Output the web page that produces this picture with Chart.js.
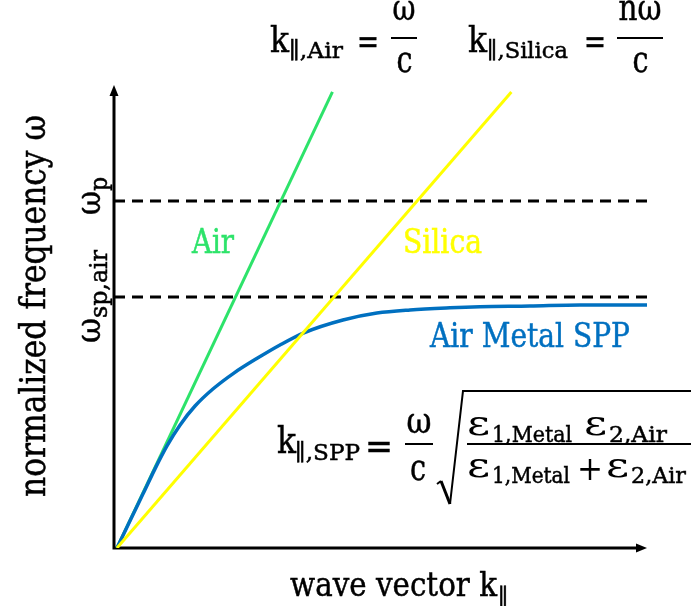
<!DOCTYPE html>
<html>
<head>
<meta charset="utf-8">
<script src="https://cdn.jsdelivr.net/npm/chart.js@4.4.1/dist/chart.umd.min.js"></script>
<style>
  html, body { margin: 0; padding: 0; background: #ffffff; }
  canvas { display: block; }
</style>
</head>
<body>
<canvas id="dispersion" width="691" height="606"></canvas>
<script>
// Axis ranges (k in units of omega_p / c, omega normalised to omega_p)
const kMin = -0.018;
const kMax = 3.232;
const wMin = 0;
const wMax = 1.334;

// Light line in air: k = omega / c
const airK = [0, 1.314];
const airW = [0, 1.314];

// Light line in silica: k = n omega / c
const silicaK = [0, 2.405];
const silicaW = [0, 1.314];

// Surface plasmon polariton at the air / metal interface
const sppK = [0, 0.079, 0.159, 0.232, 0.305, 0.384, 0.476, 0.585, 0.713, 0.860, 0.994, 1.140, 1.378, 1.585, 1.787, 2.030, 2.213, 2.518, 2.823, 3.232];
const sppW = [0, 0.078, 0.156, 0.228, 0.294, 0.354, 0.409, 0.458, 0.504, 0.548, 0.585, 0.620, 0.657, 0.677, 0.686, 0.692, 0.695, 0.697, 0.700, 0.700];

// Reference frequencies
const omegaP = 1.0;
const omegaSpAir = 0.723;

const GREEN = '#2DE36A';
const YELLOW = '#FFFF00';
const BLUE = '#0070C0';
const FONT = "'DejaVu Serif', serif";

const pts = (xs, ys) => xs.map((x, i) => ({ x: x, y: ys[i] }));

// Draws a string with its left edge at x (or centred), baseline at y,
// optionally fitted horizontally to a given width; weight adds a thin outline.
function put(ctx, str, x, y, size, color, width, align, weight) {
  const lw = weight === undefined ? 0.5 : weight;
  ctx.save();
  ctx.font = size + 'px ' + FONT;
  ctx.fillStyle = color;
  ctx.strokeStyle = color;
  ctx.textBaseline = 'alphabetic';
  ctx.textAlign = 'left';
  const m = ctx.measureText(str).width;
  const s = width ? width / m : 1;
  const w = m * s;
  const x0 = align === 'center' ? x - w / 2 : x;
  ctx.translate(x0, y);
  ctx.scale(s, 1);
  ctx.fillText(str, 0, 0);
  if (lw > 0) {
    ctx.lineWidth = lw;
    ctx.strokeText(str, 0, 0);
  }
  ctx.restore();
}

function bar(ctx, x1, x2, y, lw) {
  ctx.save();
  ctx.strokeStyle = '#000';
  ctx.lineWidth = lw || 2;
  ctx.beginPath();
  ctx.moveTo(x1, y);
  ctx.lineTo(x2, y);
  ctx.stroke();
  ctx.restore();
}

// Axes with arrow heads, drawn underneath the curves
const axesPlugin = {
  id: 'arrowAxes',
  beforeDatasetsDraw(chart) {
    const ctx = chart.ctx;
    const a = chart.chartArea;
    const x0 = a.left, y0 = a.bottom;
    ctx.save();
    ctx.strokeStyle = '#000';
    ctx.fillStyle = '#000';
    ctx.lineWidth = 3;
    ctx.lineJoin = 'miter';
    ctx.beginPath();
    ctx.moveTo(x0, a.top + 8);
    ctx.lineTo(x0, y0);
    ctx.lineTo(a.right - 8, y0);
    ctx.stroke();
    // y arrow
    ctx.beginPath();
    ctx.moveTo(x0, a.top);
    ctx.lineTo(x0 - 4.5, a.top + 11);
    ctx.lineTo(x0 + 4.5, a.top + 11);
    ctx.closePath();
    ctx.fill();
    // x arrow
    ctx.beginPath();
    ctx.moveTo(a.right, y0);
    ctx.lineTo(a.right - 11, y0 - 4.5);
    ctx.lineTo(a.right - 11, y0 + 4.5);
    ctx.closePath();
    ctx.fill();
    ctx.restore();
  }
};

// Labels and the dispersion relations
const textPlugin = {
  id: 'formulaText',
  afterDraw(chart) {
    const ctx = chart.ctx;

    // Axis titles (vertical one reads bottom to top)
    put(ctx, 'wave vector k', 290, 596, 34, '#000', 207);
    put(ctx, '\u2225', 498, 604, 22, '#000');

    ctx.save();
    ctx.translate(45, 497);
    ctx.rotate(-Math.PI / 2);
    put(ctx, 'normalized frequency \u03c9', 0, 0, 35, '#000', 382);
    ctx.restore();

    // omega_sp,air and omega_p next to the dashed levels
    ctx.save();
    ctx.translate(100, 343);
    ctx.rotate(-Math.PI / 2);
    put(ctx, '\u03c9', 0, 0, 36, '#000', 25);
    put(ctx, 'sp,air', 25, 7, 24, '#000', 68);
    ctx.restore();

    ctx.save();
    ctx.translate(100, 215);
    ctx.rotate(-Math.PI / 2);
    put(ctx, '\u03c9', 0, 0, 36, '#000', 24);
    put(ctx, 'p', 24, 7, 24, '#000', 14);
    ctx.restore();

    // Curve labels
    put(ctx, 'Air', 192, 253, 33, GREEN, 42);
    put(ctx, 'Silica', 403, 253, 33, YELLOW, 79);
    put(ctx, 'Air Metal SPP', 430, 347, 33, BLUE, 200);

    // k_air = omega / c
    put(ctx, 'k', 270, 52, 35, '#000', 19);
    put(ctx, '\u2225,Air', 289, 58, 23, '#000', 54);
    put(ctx, '=', 357, 53, 35, '#000', 22);
    put(ctx, '\u03c9', 404, 20, 35, '#000', 23, 'center');
    bar(ctx, 391, 417, 38);
    put(ctx, 'c', 404.5, 72, 35, '#000', 16, 'center');

    // k_silica = n omega / c
    put(ctx, 'k', 468, 52, 35, '#000', 19);
    put(ctx, '\u2225,Silica', 487, 58, 23, '#000', 81);
    put(ctx, '=', 584, 53, 35, '#000', 22);
    put(ctx, 'n\u03c9', 640, 20, 35, '#000', 43, 'center');
    bar(ctx, 617, 663, 38);
    put(ctx, 'c', 640.5, 72, 35, '#000', 16, 'center');

    // k_SPP = omega / c * sqrt(e1 e2 / (e1 + e2))
    put(ctx, 'k', 277, 453, 37, '#000', 19);
    put(ctx, '\u2225,SPP', 295, 460, 23, '#000', 65);
    put(ctx, '=', 365, 459, 37, '#000', 28);
    put(ctx, '\u03c9', 419, 433, 35, '#000', 25, 'center');
    bar(ctx, 405, 433, 444);
    put(ctx, 'c', 418, 480, 35, '#000', 16, 'center');

    ctx.save();
    ctx.strokeStyle = '#000';
    ctx.lineWidth = 2;
    ctx.lineJoin = 'miter';
    ctx.beginPath();
    ctx.moveTo(437, 484);
    ctx.lineTo(441, 481);
    ctx.stroke();
    ctx.lineWidth = 3;
    ctx.beginPath();
    ctx.moveTo(441, 481);
    ctx.lineTo(450, 504);
    ctx.stroke();
    ctx.lineWidth = 2;
    ctx.beginPath();
    ctx.moveTo(450, 504);
    ctx.lineTo(463, 391);
    ctx.lineTo(691, 391);
    ctx.stroke();
    ctx.restore();

    put(ctx, '\u03b5', 467, 435, 34, '#000', 23, 'left', 0);
    put(ctx, '1,Metal', 492, 442, 23, '#000', 80);
    put(ctx, '\u03b5', 584, 435, 34, '#000', 23, 'left', 0);
    put(ctx, '2,Air', 609, 442, 23, '#000', 58);
    bar(ctx, 467, 691, 444);
    put(ctx, '\u03b5', 467, 477, 34, '#000', 23, 'left', 0);
    put(ctx, '1,Metal', 492, 483, 23, '#000', 78);
    put(ctx, '+', 577, 480, 34, '#000', 26, 'left', 0);
    put(ctx, '\u03b5', 606, 477, 34, '#000', 23, 'left', 0);
    put(ctx, '2,Air', 631, 483, 23, '#000', 55);
  }
};

new Chart(document.getElementById('dispersion'), {
  type: 'scatter',
  data: {
    datasets: [
      {
        label: 'Silica',
        data: pts(silicaK, silicaW),
        showLine: true,
        borderColor: YELLOW,
        borderWidth: 3,
        pointRadius: 0,
        order: 0
      },
      {
        label: 'Air Metal SPP',
        data: pts(sppK, sppW),
        showLine: true,
        borderColor: BLUE,
        borderWidth: 3.5,
        pointRadius: 0,
        cubicInterpolationMode: 'monotone',
        order: 1
      },
      {
        label: 'Air',
        data: pts(airK, airW),
        showLine: true,
        borderColor: GREEN,
        borderWidth: 3,
        pointRadius: 0,
        order: 2
      },
      {
        label: 'omega_p',
        data: pts([kMin, kMax], [omegaP, omegaP]),
        showLine: true,
        borderColor: '#000',
        borderWidth: 3,
        borderDash: [11, 7],
        pointRadius: 0,
        order: 3
      },
      {
        label: 'omega_sp,air',
        data: pts([kMin, kMax], [omegaSpAir, omegaSpAir]),
        showLine: true,
        borderColor: '#000',
        borderWidth: 3,
        borderDash: [11, 7],
        pointRadius: 0,
        order: 3
      }
    ]
  },
  options: {
    responsive: false,
    animation: false,
    devicePixelRatio: 1,
    layout: { padding: { left: 114, right: 44, top: 85, bottom: 58 } },
    plugins: { legend: { display: false }, tooltip: { enabled: false } },
    scales: {
      x: { type: 'linear', min: kMin, max: kMax, display: false },
      y: { type: 'linear', min: wMin, max: wMax, display: false }
    }
  },
  plugins: [axesPlugin, textPlugin]
});
</script>
</body>
</html>
